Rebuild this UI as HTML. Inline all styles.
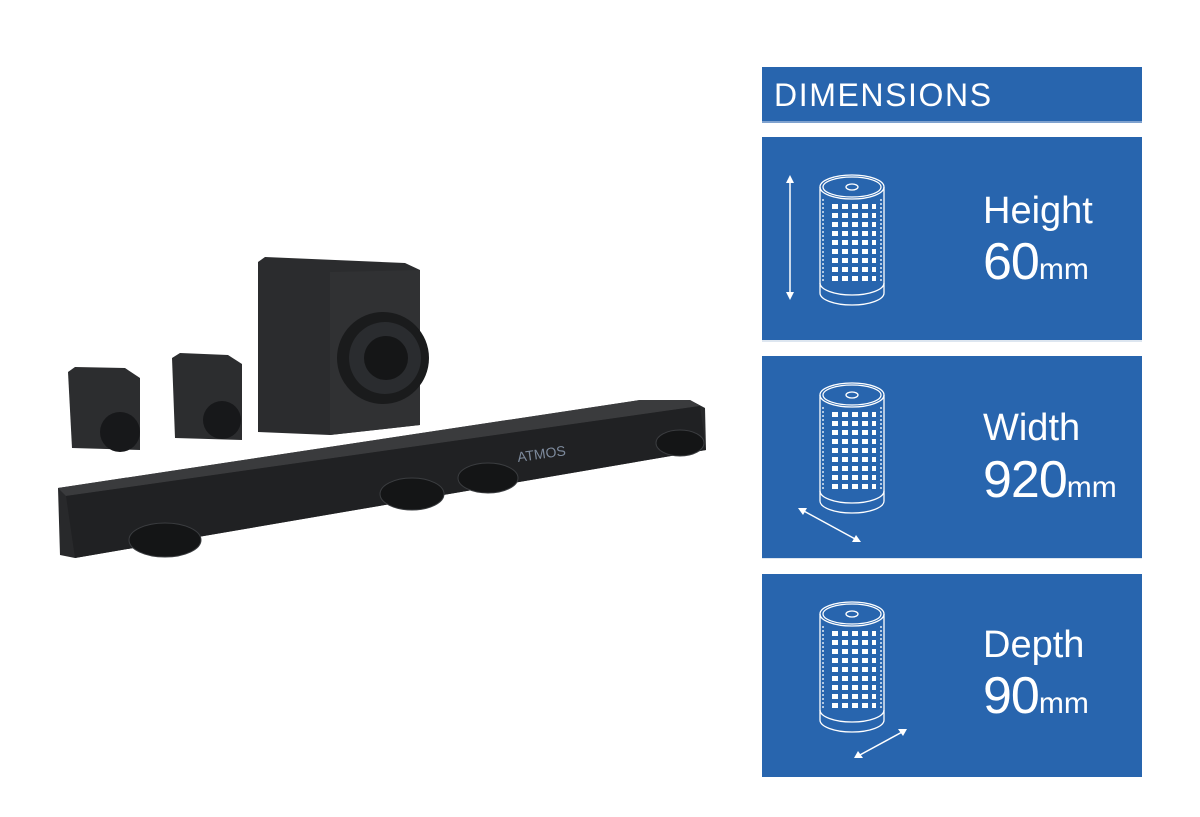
<!DOCTYPE html>
<html><head><meta charset="utf-8"><style>
html,body{margin:0;padding:0;background:#fff;width:1200px;height:817px;overflow:hidden;font-family:"Liberation Sans",sans-serif}
.p{position:absolute;left:762px;width:380px;background:#2865ae}
.t{position:absolute;color:#fff;left:983px;line-height:1;white-space:nowrap}
.l{font-size:38px}
.n{font-size:52px;letter-spacing:-1px}
.n small{font-size:30px;letter-spacing:0}
</style></head><body>
<div class="p" style="top:67px;height:54px;border-bottom:2px solid #7fa2cf"></div>
<div class="t" style="left:774px;top:79px;font-size:32px;letter-spacing:1.6px">DIMENSIONS</div>
<div class="p" style="top:137px;height:203px;border-bottom:2px solid #dde6f0"></div>
<div class="p" style="top:356px;height:202px;border-bottom:1px solid #dde6f0"></div>
<div class="p" style="top:574px;height:203px"></div>
<div class="t l" style="top:192px">Height</div>
<div class="t n" style="top:236px">60<small>mm</small></div>
<div class="t l" style="top:409px">Width</div>
<div class="t n" style="top:454px">920<small>mm</small></div>
<div class="t l" style="top:626px">Depth</div>
<div class="t n" style="top:670px">90<small>mm</small></div>
<svg width="1200" height="817" style="position:absolute;left:0;top:0">
<defs>
<pattern id="g" width="10" height="9" patternUnits="userSpaceOnUse"><rect x="2" y="2" width="6" height="5" fill="#fff"/></pattern>
<g id="cyl" stroke="#fff" fill="none" stroke-width="1.3">
<path d="M0 12 L0 118 A32 12 0 0 0 64 118 L64 12"/>
<ellipse cx="32" cy="12" rx="32" ry="12"/>
<ellipse cx="32" cy="12" rx="29" ry="10"/>
<ellipse cx="32" cy="12" rx="6" ry="3"/>
<path d="M0 108 A32 12 0 0 0 64 108"/>
<rect x="8" y="26" width="48" height="82" fill="url(#g)" stroke="none"/>
<path d="M3 24 L3 108 M61 24 L61 108" stroke-dasharray="2 2"/>
</g>
</defs>
<use href="#cyl" x="820" y="175"/>
<use href="#cyl" x="820" y="383"/>
<use href="#cyl" x="820" y="602"/>
<g stroke="#fff" stroke-width="1.5" fill="#fff">
<line x1="790" y1="180" x2="790" y2="296"/>
<path d="M786 183 L790 175 L794 183Z M786 292 L790 300 L794 292Z" stroke="none"/>
<line x1="802" y1="510" x2="857" y2="540"/>
<path d="M798 508 L807 508 L803 515Z M861 542 L852 542 L856 535Z" stroke="none"/>
<line x1="858" y1="756" x2="904" y2="731"/>
<path d="M854 758 L863 758 L858 751Z M907 729 L898 729 L903 736Z" stroke="none"/>
</g>
<!-- subwoofer -->
<polygon points="258,262 265,257 405,263 420,270 420,425 330,435 258,432" fill="#2b2c2e"/>
<polygon points="330,272 420,270 420,425 330,435" fill="#303133"/>
<circle cx="383" cy="358" r="46" fill="#1a1b1c"/><circle cx="385" cy="358" r="36" fill="#2a2c2f"/><circle cx="386" cy="358" r="22" fill="#151617"/>
<!-- satellites -->
<polygon points="68,372 75,367 125,368 140,378 140,450 72,448" fill="#2c2d2f"/>
<circle cx="120" cy="432" r="20" fill="#17181a"/>
<polygon points="172,358 180,353 228,355 242,364 242,440 175,438" fill="#2c2d2f"/>
<circle cx="222" cy="420" r="19" fill="#17181a"/>
<!-- soundbar -->
<polygon points="58,488 640,400 690,400 705,408 706,450 75,558 60,555" fill="#28292b"/>
<polygon points="58,488 640,400 690,400 700,406 66,496" fill="#3a3b3d"/>
<polygon points="66,496 700,406 706,450 75,558" fill="#202123"/>
<text x="518" y="462" fill="#7d8a9c" font-size="14" transform="rotate(-8 518 462)">ATMOS</text>
<g fill="#141516" stroke="#3b3d40" stroke-width="1">
<ellipse cx="165" cy="540" rx="36" ry="17"/>
<ellipse cx="412" cy="494" rx="32" ry="16"/>
<ellipse cx="488" cy="478" rx="30" ry="15"/>
<ellipse cx="680" cy="443" rx="24" ry="13"/>
</g>
</svg>
</body></html>
